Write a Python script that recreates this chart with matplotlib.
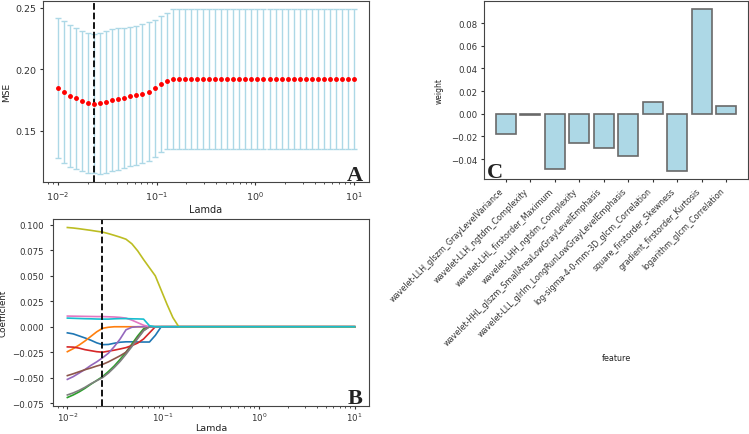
import numpy as np
import matplotlib
matplotlib.use('Agg')
import matplotlib.pyplot as plt
from matplotlib.ticker import MultipleLocator

plt.rcParams['font.size'] = 7
plt.rcParams['axes.edgecolor'] = '#444444'
plt.rcParams['text.color'] = '#222222'
plt.rcParams['axes.labelcolor'] = '#222222'
plt.rcParams['xtick.color'] = '#333333'
plt.rcParams['ytick.color'] = '#333333'
plt.rcParams['xtick.major.size'] = 2.5
plt.rcParams['ytick.major.size'] = 2.5
plt.rcParams['xtick.minor.size'] = 1.5
plt.rcParams['xtick.major.pad'] = 2.5
plt.rcParams['ytick.major.pad'] = 2.5

# lambda grid of the lasso path (50 log-spaced values from 1e-2 to 1e1)
lambdas = np.logspace(-2, 1, 50)
best_lambda = 0.0231

mse_mean = [0.1848, 0.1813, 0.1783, 0.1762, 0.1741, 0.1727, 0.1719, 0.1722, 0.1733, 0.1749,
            0.1757, 0.1767, 0.1778, 0.1789, 0.1799, 0.1818, 0.1845, 0.1880, 0.1904, 0.1920,
            0.1920, 0.1920, 0.1920, 0.1920, 0.1920, 0.1920, 0.1920, 0.1920, 0.1920, 0.1920,
            0.1920, 0.1920, 0.1920, 0.1920, 0.1920, 0.1920, 0.1920, 0.1920, 0.1920, 0.1920,
            0.1920, 0.1920, 0.1920, 0.1920, 0.1920, 0.1920, 0.1920, 0.1920, 0.1920, 0.1920]
mse_std = [0.0566, 0.0575, 0.0575, 0.0570, 0.0566, 0.0570, 0.0564, 0.0572, 0.0574, 0.0575,
           0.0575, 0.0570, 0.0564, 0.0564, 0.0565, 0.0562, 0.0556, 0.0553, 0.0556, 0.0567,
           0.0567, 0.0567, 0.0567, 0.0567, 0.0567, 0.0567, 0.0567, 0.0567, 0.0567, 0.0567,
           0.0567, 0.0567, 0.0567, 0.0567, 0.0567, 0.0567, 0.0567, 0.0567, 0.0567, 0.0567,
           0.0567, 0.0567, 0.0567, 0.0567, 0.0567, 0.0567, 0.0567, 0.0567, 0.0567, 0.0567]

coef_llh_glszm = [-0.0060, -0.0070, -0.0090, -0.0110, -0.0132, -0.0158, -0.0176, -0.0174, -0.0162, -0.0152,
                  -0.0148, -0.0148, -0.0150, -0.0150, -0.0150, -0.0085, 0, 0, 0, 0,
                  0, 0, 0, 0, 0, 0, 0, 0, 0, 0,
                  0, 0, 0, 0, 0, 0, 0, 0, 0, 0,
                  0, 0, 0, 0, 0, 0, 0, 0, 0, 0]
coef_llh_ngtdm = [-0.0245, -0.0215, -0.0180, -0.0140, -0.0095, -0.0050, -0.0015, -0.0005, 0, 0,
                  0, 0, 0, 0, 0, 0, 0, 0, 0, 0,
                  0, 0, 0, 0, 0, 0, 0, 0, 0, 0,
                  0, 0, 0, 0, 0, 0, 0, 0, 0, 0,
                  0, 0, 0, 0, 0, 0, 0, 0, 0, 0]
coef_lhl_max = [-0.0695, -0.0670, -0.0640, -0.0605, -0.0565, -0.0528, -0.0490, -0.0440, -0.0385, -0.0320,
                -0.0250, -0.0170, -0.0090, -0.0020, 0, 0, 0, 0, 0, 0,
                0, 0, 0, 0, 0, 0, 0, 0, 0, 0,
                0, 0, 0, 0, 0, 0, 0, 0, 0, 0,
                0, 0, 0, 0, 0, 0, 0, 0, 0, 0]
coef_lhh_ngtdm = [-0.0198, -0.0200, -0.0210, -0.0225, -0.0235, -0.0245, -0.0250, -0.0240, -0.0230, -0.0218,
                  -0.0205, -0.0185, -0.0160, -0.0120, -0.0060, 0, 0, 0, 0, 0,
                  0, 0, 0, 0, 0, 0, 0, 0, 0, 0,
                  0, 0, 0, 0, 0, 0, 0, 0, 0, 0,
                  0, 0, 0, 0, 0, 0, 0, 0, 0, 0]
coef_hhl_glszm = [-0.0517, -0.0490, -0.0455, -0.0420, -0.0380, -0.0345, -0.0305, -0.0260, -0.0195, -0.0120,
                  -0.0030, -0.0005, 0, 0, 0, 0, 0, 0, 0, 0,
                  0, 0, 0, 0, 0, 0, 0, 0, 0, 0,
                  0, 0, 0, 0, 0, 0, 0, 0, 0, 0,
                  0, 0, 0, 0, 0, 0, 0, 0, 0, 0]
coef_lll_glrlm = [-0.0480, -0.0462, -0.0442, -0.0422, -0.0405, -0.0386, -0.0370, -0.0345, -0.0315, -0.0285,
                  -0.0250, -0.0185, -0.0110, -0.0035, 0, 0, 0, 0, 0, 0,
                  0, 0, 0, 0, 0, 0, 0, 0, 0, 0,
                  0, 0, 0, 0, 0, 0, 0, 0, 0, 0,
                  0, 0, 0, 0, 0, 0, 0, 0, 0, 0]
coef_log_glcm = [0.0105, 0.0104, 0.0103, 0.0102, 0.0101, 0.0100, 0.0100, 0.0098, 0.0096, 0.0092,
                 0.0085, 0.0065, 0.0040, 0.0015, 0, 0, 0, 0, 0, 0,
                 0, 0, 0, 0, 0, 0, 0, 0, 0, 0,
                 0, 0, 0, 0, 0, 0, 0, 0, 0, 0,
                 0, 0, 0, 0, 0, 0, 0, 0, 0, 0]
coef_square_skew = [-0.0670, -0.0650, -0.0625, -0.0595, -0.0560, -0.0530, -0.0500, -0.0455, -0.0400, -0.0340,
                    -0.0270, -0.0195, -0.0115, -0.0040, 0, 0, 0, 0, 0, 0,
                    0, 0, 0, 0, 0, 0, 0, 0, 0, 0,
                    0, 0, 0, 0, 0, 0, 0, 0, 0, 0,
                    0, 0, 0, 0, 0, 0, 0, 0, 0, 0]
coef_gradient_kurt = [0.0975, 0.0970, 0.0963, 0.0955, 0.0947, 0.0938, 0.0930, 0.0915, 0.0898, 0.0880,
                      0.0860, 0.0815, 0.0745, 0.0660, 0.0580, 0.0500, 0.0360, 0.0220, 0.0090, 0,
                      0, 0, 0, 0, 0, 0, 0, 0, 0, 0,
                      0, 0, 0, 0, 0, 0, 0, 0, 0, 0,
                      0, 0, 0, 0, 0, 0, 0, 0, 0, 0]
coef_logarithm_glcm = [0.0085, 0.0083, 0.0081, 0.0079, 0.0078, 0.0076, 0.0075, 0.0075, 0.0078, 0.0080,
                       0.0080, 0.0078, 0.0077, 0.0075, 0.0010, 0, 0, 0, 0, 0,
                       0, 0, 0, 0, 0, 0, 0, 0, 0, 0,
                       0, 0, 0, 0, 0, 0, 0, 0, 0, 0,
                       0, 0, 0, 0, 0, 0, 0, 0, 0, 0]

features = ['wavelet-LLH_glszm_GrayLevelVariance', 'wavelet-LLH_ngtdm_Complexity',
            'wavelet-LHL_firstorder_Maximum', 'wavelet-LHH_ngtdm_Complexity',
            'wavelet-HHL_glszm_SmallAreaLowGrayLevelEmphasis',
            'wavelet-LLL_glrlm_LongRunLowGrayLevelEmphasis',
            'log-sigma-4-0-mm-3D_glcm_Correlation', 'square_firstorder_Skewness',
            'gradient_firstorder_Kurtosis', 'logarithm_glcm_Correlation']
weights = [-0.0177, -0.0015, -0.0490, -0.0254, -0.0304, -0.0372, 0.0103, -0.0505, 0.0925, 0.0071]

fig = plt.figure(figsize=(7.49, 4.35), dpi=100)
axA = fig.add_axes([43/749, 1-183/435, 326/749, 181/435])
axB = fig.add_axes([53/749, 1-407/435, 316/749, 187/435])
axC = fig.add_axes([484/749, 1-180/435, 264/749, 178/435])

letter_font = dict(fontsize=16, fontweight='bold', family='Liberation Serif', color='#222222')

# A: cross-validated MSE
axA.errorbar(lambdas, mse_mean, yerr=mse_std, fmt='o', color='red', ms=2.5,
             ecolor='lightblue', elinewidth=1, capsize=2)
axA.axvline(best_lambda, color='black', ls='--', lw=1.3)
axA.set_xscale('log')
axA.yaxis.set_major_locator(MultipleLocator(0.05))
axA.tick_params(labelsize=6.8)
axA.set_xlabel('Lamda', fontsize=7, labelpad=1.5)
axA.set_ylabel('MSE', fontsize=6.5, labelpad=3)
axA.text(0.98, 0.012, 'A', transform=axA.transAxes, ha='right', va='baseline', **letter_font)

# B: coefficient paths
paths = [coef_llh_glszm, coef_llh_ngtdm, coef_lhl_max, coef_lhh_ngtdm, coef_hhl_glszm,
         coef_lll_glrlm, coef_log_glcm, coef_square_skew, coef_gradient_kurt, coef_logarithm_glcm]
for p in paths:
    axB.plot(lambdas, p, lw=1.2)
axB.axvline(best_lambda, color='black', ls='--', lw=1.3)
axB.set_xscale('log')
axB.yaxis.set_major_locator(MultipleLocator(0.025))
axB.tick_params(labelsize=6.2)
axB.tick_params(axis='y', pad=4)
axB.tick_params(axis='x', pad=1)
axB.set_xlabel('Lamda', fontsize=6.8, labelpad=0)
axB.set_ylabel('Coefficient', fontsize=6.3, labelpad=3)
axB.text(0.98, 0.016, 'B', transform=axB.transAxes, ha='right', va='baseline', **letter_font)

# C: weights of selected features
x = np.arange(len(features))
axC.bar(x, weights, color='lightblue', edgecolor='dimgray', lw=1.2)
axC.set_xticks(x)
axC.set_xticklabels(features, rotation=45, ha='right', fontsize=5.8)
axC.yaxis.set_major_locator(MultipleLocator(0.02))
axC.tick_params(axis='y', labelsize=6.2)
axC.set_xlabel('feature', fontsize=5.8)
axC.set_ylabel('weight', fontsize=5.5, labelpad=5)
axC.text(0.012, 0.012, 'C', transform=axC.transAxes, ha='left', va='baseline', **letter_font)

fig.savefig('out.png', dpi=100)
